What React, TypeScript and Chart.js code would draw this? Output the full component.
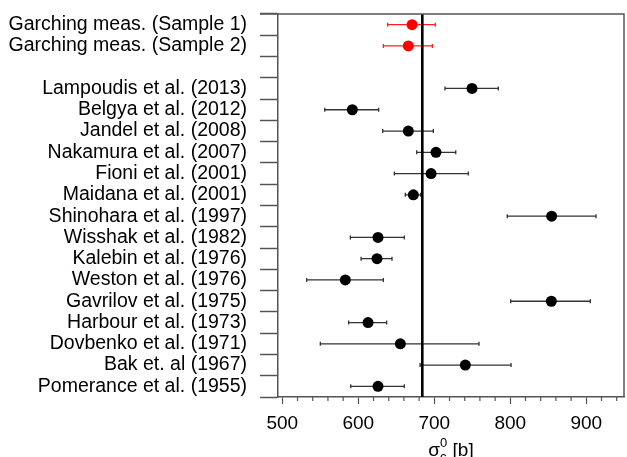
import React, { useEffect, useRef } from 'react';
import { Chart, registerables } from 'chart.js';

Chart.register(...registerables);

const studies = [
  'Garching meas. (Sample 1)',
  'Garching meas. (Sample 2)',
  '',
  'Lampoudis et al. (2013)',
  'Belgya et al. (2012)',
  'Jandel et al. (2008)',
  'Nakamura et al. (2007)',
  'Fioni et al. (2001)',
  'Maidana et al. (2001)',
  'Shinohara et al. (1997)',
  'Wisshak et al. (1982)',
  'Kalebin et al. (1976)',
  'Weston et al. (1976)',
  'Gavrilov et al. (1975)',
  'Harbour et al. (1973)',
  'Dovbenko et al. (1971)',
  'Bak et. al (1967)',
  'Pomerance et al. (1955)',
];

const values = [670.7, 665.8, null, 749.6, 592.1, 665.8, 702.2, 695.7, 672.4, 854.4, 625.9, 624.6, 582.9, 854.0, 612.8, 655.3, 740.8, 625.9];
const errLow = [638.6, 632.9, null, 714.0, 555.8, 632.1, 676.8, 647.4, 661.8, 796.0, 589.5, 603.6, 532.1, 800.5, 587.3, 550.0, 681.2, 590.0];
const errHigh = [701.3, 697.4, null, 784.2, 626.8, 698.7, 728.2, 744.7, 682.0, 912.8, 660.5, 644.3, 632.9, 905.3, 637.3, 758.8, 801.0, 660.5];
const isGarching = [true, true, false, false, false, false, false, false, false, false, false, false, false, false, false, false, false, false];

const referenceValue = 684.2;
const xMin = 494.3;
const xMax = 949.6;
const xTickValues = [500, 520, 540, 560, 580, 600, 620, 640, 660, 680, 700, 720, 740, 760, 780, 800, 820, 840, 860, 880, 900, 920, 940];
const xMajorLabels = [500, 600, 700, 800, 900];

const FONT = '"Liberation Sans", Arial, Helvetica, sans-serif';
const FRAME = '#555555';

const decorPlugin = {
  id: 'decor',
  beforeDatasetsDraw(chart: any) {
    const { ctx, chartArea, scales } = chart;
    const xs = scales.x;
    const ys = scales.y;
    ctx.save();
    for (let i = 0; i < studies.length; i++) {
      if (values[i] == null) continue;
      const y = ys.getPixelForValue(i);
      const x1 = xs.getPixelForValue(errLow[i] as number);
      const x2 = xs.getPixelForValue(errHigh[i] as number);
      ctx.strokeStyle = isGarching[i] ? '#ff2020' : '#333333';
      ctx.lineWidth = 1.3;
      ctx.beginPath();
      ctx.moveTo(x1, y);
      ctx.lineTo(x2, y);
      ctx.moveTo(x1, y - 2);
      ctx.lineTo(x1, y + 2);
      ctx.moveTo(x2, y - 2);
      ctx.lineTo(x2, y + 2);
      ctx.stroke();
    }
    const rx = xs.getPixelForValue(referenceValue);
    ctx.strokeStyle = '#000000';
    ctx.lineWidth = 2.6;
    ctx.beginPath();
    ctx.moveTo(rx, chartArea.top);
    ctx.lineTo(rx, chartArea.bottom);
    ctx.stroke();
    ctx.restore();
  },
  afterDraw(chart: any) {
    const { ctx, chartArea, scales } = chart;
    const xs = scales.x;
    ctx.save();
    ctx.strokeStyle = FRAME;
    ctx.lineWidth = 1.5;
    ctx.beginPath();
    ctx.moveTo(chartArea.left - 18, chartArea.top);
    ctx.lineTo(chartArea.right, chartArea.top);
    ctx.lineTo(chartArea.right, chartArea.bottom);
    ctx.stroke();
    ctx.lineWidth = 1.2;
    ctx.beginPath();
    for (const v of xTickValues) {
      if (xMajorLabels.includes(v)) continue;
      const px = xs.getPixelForValue(v);
      ctx.moveTo(px, chartArea.bottom);
      ctx.lineTo(px, chartArea.bottom + 4);
    }
    ctx.stroke();
    const cx = (chartArea.left + chartArea.right) / 2;
    const baseY = 456;
    ctx.fillStyle = '#000000';
    ctx.textBaseline = 'alphabetic';
    ctx.textAlign = 'left';
    const big = `19px ${FONT}`;
    const small = `13px ${FONT}`;
    ctx.font = big;
    const wSigma = ctx.measureText('σ').width;
    const wRest = ctx.measureText(' [b]').width;
    ctx.font = small;
    const wScript = Math.max(ctx.measureText('0').width, ctx.measureText('c').width);
    const total = wSigma + wScript + wRest;
    let x = cx - total / 2;
    ctx.font = big;
    ctx.fillText('σ', x, baseY);
    x += wSigma;
    ctx.font = small;
    ctx.fillText('0', x, baseY - 9);
    ctx.fillText('c', x, baseY + 5);
    x += wScript;
    ctx.font = big;
    ctx.fillText(' [b]', x, baseY);
    ctx.restore();
  },
};

export default function App() {
  const ref = useRef<HTMLCanvasElement | null>(null);
  useEffect(() => {
    document.body.style.margin = '0';
    const canvas = ref.current;
    if (!canvas) return;
    const redData: any[] = [];
    const blackData: any[] = [];
    values.forEach((v, i) => {
      if (v == null) return;
      (isGarching[i] ? redData : blackData).push({ x: v, y: studies[i] });
    });
    const chart = new Chart(canvas, {
      type: 'scatter',
      data: {
        datasets: [
          { data: redData, backgroundColor: '#ff0000', borderWidth: 0, pointRadius: 5.5, pointHoverRadius: 5.5 },
          { data: blackData, backgroundColor: '#000000', borderWidth: 0, pointRadius: 5.5, pointHoverRadius: 5.5 },
        ],
      },
      options: {
        responsive: false,
        animation: false,
        devicePixelRatio: 1,
        layout: { autoPadding: false, padding: { top: 14, right: 3, left: 0, bottom: 0 } },
        plugins: { legend: { display: false }, tooltip: { enabled: false }, title: { display: false } },
        scales: {
          x: {
            type: 'linear',
            position: 'bottom',
            min: xMin,
            max: xMax,
            afterBuildTicks: (scale: any) => {
              scale.ticks = xTickValues.map((v) => ({ value: v }));
            },
            afterFit: (scale: any) => {
              scale.height = 60;
              scale.paddingLeft = 0;
              scale.paddingRight = 0;
              scale.paddingTop = 0;
              scale.paddingBottom = 0;
            },
            ticks: {
              autoSkip: false,
              maxRotation: 0,
              padding: 8,
              color: '#000000',
              font: { family: FONT, size: 19 },
              callback: (value: any) => (xMajorLabels.includes(Number(value)) ? String(value) : ''),
            },
            grid: {
              drawOnChartArea: false,
              drawTicks: true,
              tickLength: 7,
              tickWidth: 1.2,
              tickColor: (c: any) => (c.tick && xMajorLabels.includes(c.tick.value) ? FRAME : 'rgba(0,0,0,0)'),
            },
            border: { display: true, color: FRAME, width: 1.5 },
          },
          y: {
            type: 'category',
            labels: studies,
            offset: true,
            afterFit: (scale: any) => {
              scale.width = 278;
              scale.paddingLeft = 0;
              scale.paddingRight = 0;
              scale.paddingTop = 0;
              scale.paddingBottom = 0;
            },
            ticks: {
              autoSkip: false,
              padding: 13,
              color: '#000000',
              font: { family: FONT, size: 19.5 },
            },
            grid: {
              offset: true,
              drawOnChartArea: false,
              drawTicks: true,
              tickLength: 18,
              tickWidth: 1.5,
              tickColor: FRAME,
            },
            border: { display: true, color: FRAME, width: 1.5 },
          },
        },
      },
      plugins: [decorPlugin],
    } as any);
    return () => chart.destroy();
  }, []);
  return (
    <div style={{ position: 'absolute', left: 0, top: 0, width: 627, height: 457, background: '#ffffff' }}>
      <canvas ref={ref} width={627} height={457} style={{ display: 'block', width: 627, height: 457 }} />
    </div>
  );
}
